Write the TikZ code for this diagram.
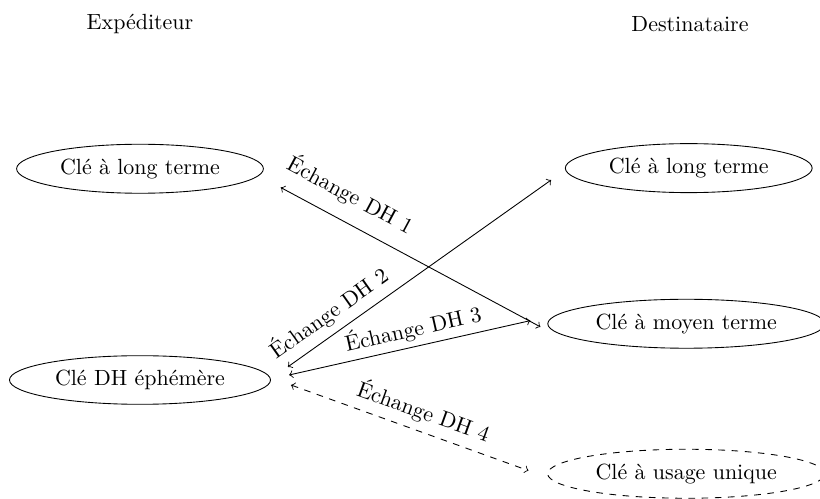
\documentclass[tikz,border=0pt]{standalone}
\usetikzlibrary{shapes.geometric}
\begin{document}
\begin{tikzpicture}[
		cle/.style={draw, ellipse},
		cleunique/.style={draw, ellipse, dashed},
		echange/.style={<->},
		every node/.style={inner sep=3.33pt}
	]
	\useasboundingbox (0,0) rectangle (13.12,-7.97);
	\node (exp) at (2.24,-0.38) {Expéditeur};
	\node (dest) at (11.04,-0.38) {Destinataire};
	\node[cle] (longA) at (2.24,-2.70) {Clé à long terme};
	\node[cle] (ephem) at (2.24,-6.08) {Clé DH éphémère};
	\node[cle] (longB) at (11.02,-2.69) {Clé à long terme};
	\node[cle] (moyen) at (10.98,-5.18) {Clé à moyen terme};
	\node[cleunique] (unique) at (10.98,-7.58) {Clé à usage unique};
	\draw[echange] ([shift={(0.27,-0.30)}]longA.east) -- ([shift={(-0.11,-0.05)}]moyen.west)
		node[pos=0.22, sloped, above=3pt] {Échange DH 1};
	\draw[echange] ([shift={(0.27,0.21)}]ephem.east) -- ([shift={(-0.22,-0.19)}]longB.west)
		node[pos=0.2, sloped, above] {Échange DH 2};
	\draw[echange] ([shift={(0.29,0.08)}]ephem.east) -- ([shift={(-0.27,0.05)}]moyen.west)
		node[pos=0.53, sloped, above=-1pt] {Échange DH 3};
	\draw[echange, dashed] ([shift={(0.32,-0.08)}]ephem.east) -- ([shift={(-0.30,0.05)}]unique.west)
		node[pos=0.53, sloped, above] {Échange DH 4};
\end{tikzpicture}
\end{document}
